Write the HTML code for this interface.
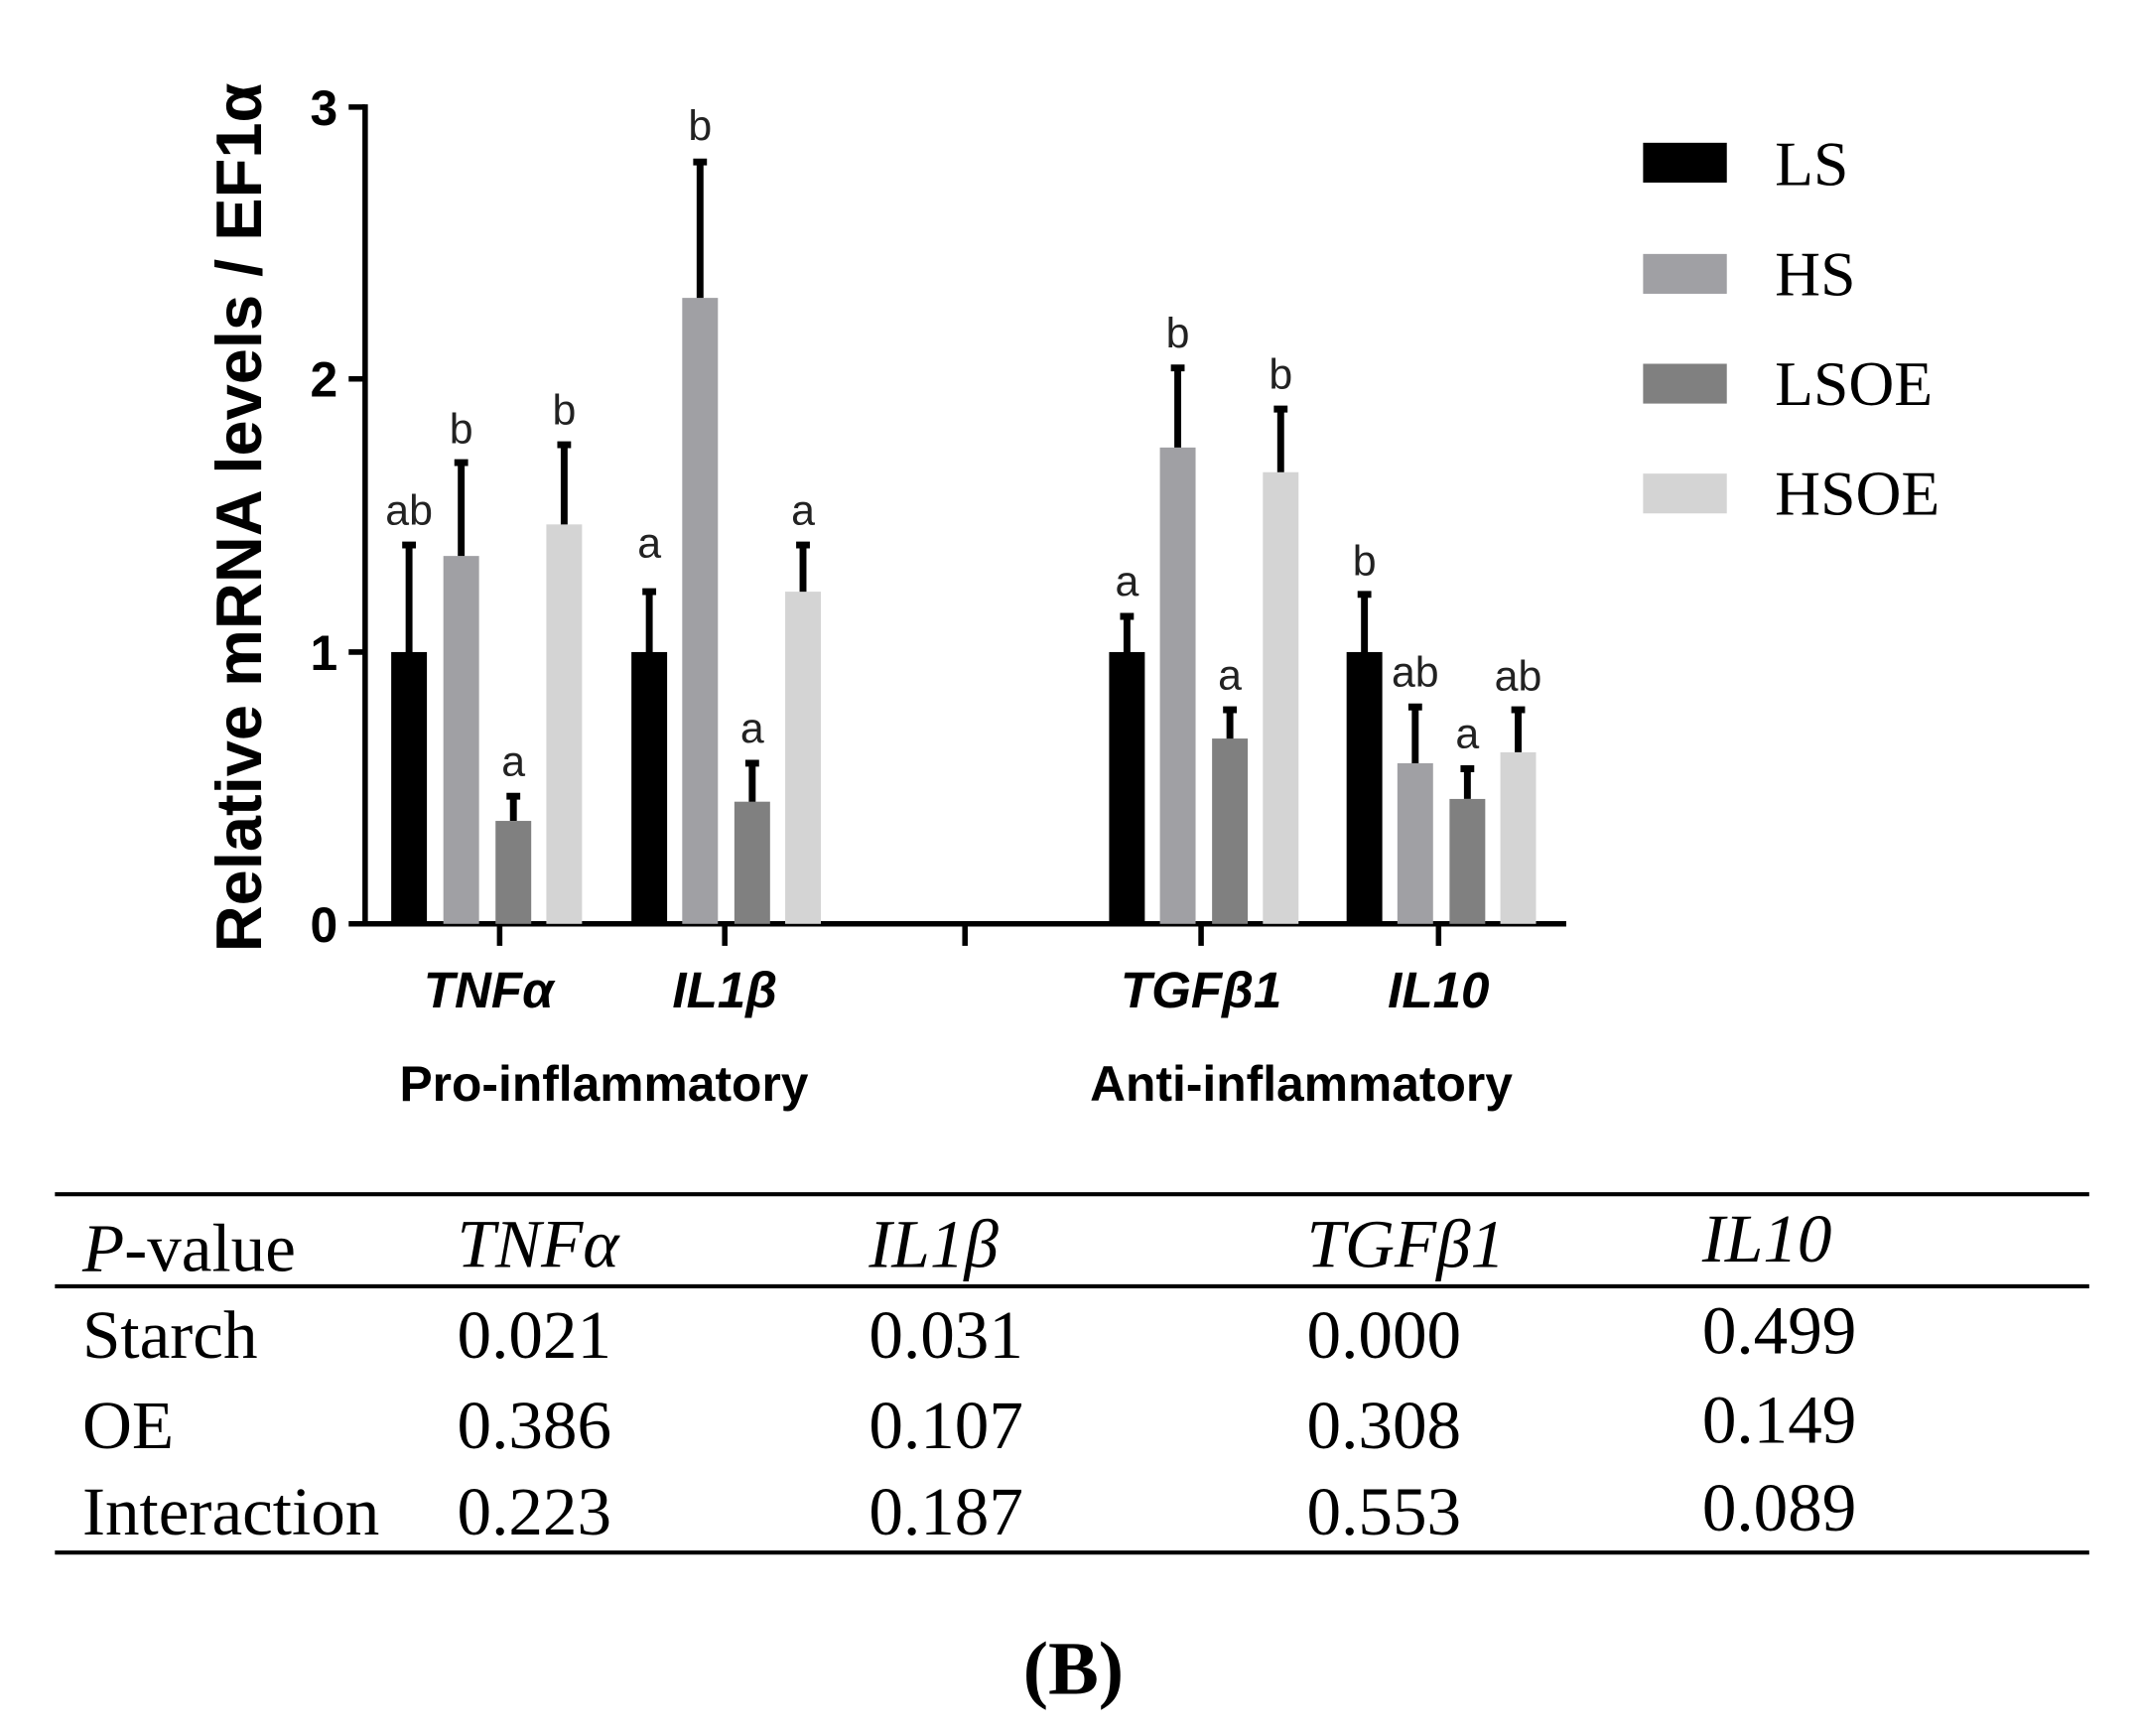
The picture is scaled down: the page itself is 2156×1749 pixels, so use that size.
<!DOCTYPE html>
<html><head><style>html,body{margin:0;padding:0;background:#fff}</style></head><body>
<svg width="2156" height="1744" viewBox="0 0 1559 1261" preserveAspectRatio="none" xmlns="http://www.w3.org/2000/svg">
<rect width="1559" height="1261" fill="#fff"/>
<g font-family="Liberation Sans, sans-serif">
<line x1="266" y1="76" x2="266" y2="675" stroke="#000" stroke-width="4"/>
<line x1="264" y1="673" x2="1141" y2="673" stroke="#000" stroke-width="4"/>
<g stroke="#000" stroke-width="4">
<line x1="254" y1="78" x2="266" y2="78"/><line x1="254" y1="276" x2="266" y2="276"/><line x1="254" y1="475" x2="266" y2="475"/><line x1="254" y1="673" x2="266" y2="673"/>
<line x1="364" y1="673" x2="364" y2="689"/><line x1="528" y1="673" x2="528" y2="689"/><line x1="703" y1="673" x2="703" y2="689"/><line x1="875" y1="673" x2="875" y2="689"/><line x1="1048" y1="673" x2="1048" y2="689"/>
</g>
<g font-size="36" font-weight="bold" text-anchor="end">
<text x="246" y="91">3</text><text x="246" y="289">2</text><text x="246" y="488">1</text><text x="246" y="686">0</text>
</g>
<text transform="translate(190,377) rotate(-90)" font-size="47" font-weight="bold" text-anchor="middle">Relative mRNA levels / EF1α</text>
<g font-size="37" font-weight="bold" font-style="italic" text-anchor="middle">
<text x="356" y="734">TNFα</text><text x="528" y="734">IL1β</text><text x="875" y="734">TGFβ1</text><text x="1048" y="734">IL10</text>
</g>
<g font-size="36" font-weight="bold" text-anchor="middle">
<text x="440" y="802">Pro-inflammatory</text><text x="948" y="802">Anti-inflammatory</text>
</g>
</g>
<g>
<rect x="285" y="475" width="26" height="198" fill="#000"/>
<rect x="323" y="405" width="26" height="268" fill="#a0a0a4"/>
<rect x="361" y="598" width="26" height="75" fill="#808080"/>
<rect x="398" y="382" width="26" height="291" fill="#d4d4d4"/>
<rect x="460" y="475" width="26" height="198" fill="#000"/>
<rect x="497" y="217" width="26" height="456" fill="#a0a0a4"/>
<rect x="535" y="584" width="26" height="89" fill="#808080"/>
<rect x="572" y="431" width="26" height="242" fill="#d4d4d4"/>
<rect x="808" y="475" width="26" height="198" fill="#000"/>
<rect x="845" y="326" width="26" height="347" fill="#a0a0a4"/>
<rect x="883" y="538" width="26" height="135" fill="#808080"/>
<rect x="920" y="344" width="26" height="329" fill="#d4d4d4"/>
<rect x="981" y="475" width="26" height="198" fill="#000"/>
<rect x="1018" y="556" width="26" height="117" fill="#a0a0a4"/>
<rect x="1056" y="582" width="26" height="91" fill="#808080"/>
<rect x="1093" y="548" width="26" height="125" fill="#d4d4d4"/>
</g>
<g stroke="#000" stroke-width="5" fill="none">
<path d="M298 475V397M293 397h10"/>
<path d="M336 405V337M331 337h10"/>
<path d="M374 598V580M369 580h10"/>
<path d="M411 382V324M406 324h10"/>
<path d="M473 475V431M468 431h10"/>
<path d="M510 217V118M505 118h10"/>
<path d="M548 584V556M543 556h10"/>
<path d="M585 431V397M580 397h10"/>
<path d="M821 475V449M816 449h10"/>
<path d="M858 326V268M853 268h10"/>
<path d="M896 538V517M891 517h10"/>
<path d="M933 344V298M928 298h10"/>
<path d="M994 475V433M989 433h10"/>
<path d="M1031 556V515M1026 515h10"/>
<path d="M1069 582V560M1064 560h10"/>
<path d="M1106 548V517M1101 517h10"/>
</g>
<g font-family="Liberation Sans, sans-serif" font-size="31" text-anchor="middle" fill="#222">
<text x="298" y="382">ab</text><text x="336" y="323">b</text><text x="374" y="565">a</text><text x="411" y="309">b</text>
<text x="473" y="406">a</text><text x="510" y="102">b</text><text x="548" y="541">a</text><text x="585" y="382">a</text>
<text x="821" y="434">a</text><text x="858" y="253">b</text><text x="896" y="502">a</text><text x="933" y="283">b</text>
<text x="994" y="419">b</text><text x="1031" y="500">ab</text><text x="1069" y="545">a</text><text x="1106" y="503">ab</text>
</g>
<rect x="1197" y="104" width="61" height="29" fill="#000"/>
<rect x="1197" y="185" width="61" height="29" fill="#a0a0a4"/>
<rect x="1197" y="265" width="61" height="29" fill="#808080"/>
<rect x="1197" y="345" width="61" height="29" fill="#d4d4d4"/>
<g font-family="Liberation Serif, serif" font-size="46">
<text x="1293" y="135">LS</text><text x="1293" y="215">HS</text><text x="1293" y="295">LSOE</text><text x="1293" y="375">HSOE</text>
</g>
<g stroke="#000" stroke-width="3">
<line x1="40" y1="870" x2="1522" y2="870"/><line x1="40" y1="937" x2="1522" y2="937"/><line x1="40" y1="1131" x2="1522" y2="1131"/>
</g>
<g font-family="Liberation Serif, serif" font-size="50">
<text x="60" y="926"><tspan font-style="italic">P</tspan>-value</text>
<g font-style="italic"><text x="333" y="923">TNFα</text><text x="633" y="923">IL1β</text><text x="952" y="923">TGFβ1</text><text x="1240" y="919">IL10</text></g>
<text x="60" y="989">Starch</text><text x="333" y="989">0.021</text><text x="633" y="989">0.031</text><text x="952" y="989">0.000</text><text x="1240" y="986">0.499</text>
<text x="60" y="1055">OE</text><text x="333" y="1055">0.386</text><text x="633" y="1055">0.107</text><text x="952" y="1055">0.308</text><text x="1240" y="1051">0.149</text>
<text x="60" y="1118">Interaction</text><text x="333" y="1118">0.223</text><text x="633" y="1118">0.187</text><text x="952" y="1118">0.553</text><text x="1240" y="1115">0.089</text>
<text x="782" y="1234" font-size="55" font-weight="bold" text-anchor="middle">(B)</text>
</g>
</svg>
</body></html>
